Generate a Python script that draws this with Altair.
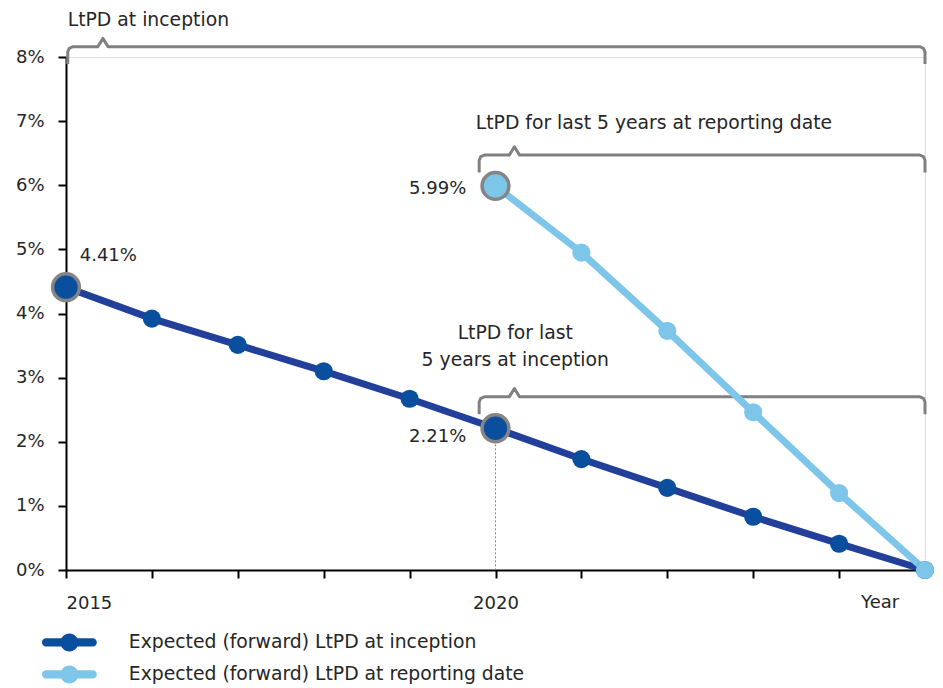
import altair as alt
import pandas as pd

# ---- data ----
years_inception = [2015, 2016, 2017, 2018, 2019, 2020, 2021, 2022, 2023, 2024, 2025]
ltpd_inception = [4.41, 3.92, 3.51, 3.10, 2.67, 2.21, 1.73, 1.28, 0.83, 0.41, 0.00]

years_reporting = [2020, 2021, 2022, 2023, 2024, 2025]
ltpd_reporting = [5.99, 4.95, 3.73, 2.46, 1.20, 0.00]

series_names = ["Expected (forward) LtPD at inception",
                "Expected (forward) LtPD at reporting date"]
highlight = [(series_names[0], 2015), (series_names[0], 2020), (series_names[1], 2020)]

y_ticks = [0, 1, 2, 3, 4, 5, 6, 7, 8]
x_ticks = list(range(2015, 2026))

# bracket annotations: (start year, end year, level %, peak year)
brackets = [(2015.02, 2025.0, 8.16, 2015.43),
            (2019.81, 2025.0, 6.47, 2020.22),
            (2019.81, 2025.0, 2.70, 2020.22)]
bracket_texts_left = [("LtPD at inception", 2015.02, 8.58),
                      ("LtPD for last 5 years at reporting date", 2019.77, 6.97)]
bracket_texts_center = [("LtPD for last", 2020.23, 3.70),
                        ("5 years at inception", 2020.23, 3.28)]
value_labels_left = [("4.41%", 2015.16, 4.90)]
value_labels_right = [("5.99%", 2019.66, 5.94), ("2.21%", 2019.66, 2.07)]

# ---- tables ----
rows = []
for y, v in zip(years_inception, ltpd_inception):
    rows.append({"series": series_names[0], "year": y, "ltpd": v})
for y, v in zip(years_reporting, ltpd_reporting):
    rows.append({"series": series_names[1], "year": y, "ltpd": v})
df = pd.DataFrame(rows)
df["hl"] = [(s, y) in highlight for s, y in zip(df["series"], df["year"])]

drop, rx, ry, pw, ph = 0.27, 0.06, 0.08, 0.06, 0.13
brows = []
for i, (x0, x1, L, p) in enumerate(brackets):
    pts = [(x0, L - drop), (x0, L - ry), (x0 + rx * 0.3, L - ry * 0.3), (x0 + rx, L),
           (p - pw, L), (p, L + ph), (p + pw, L), (x1 - rx, L),
           (x1 - rx * 0.3, L - ry * 0.3), (x1, L - ry), (x1, L - drop)]
    for k, (x, y) in enumerate(pts):
        brows.append({"b": i, "k": k, "x": x, "y": y})
bdf = pd.DataFrame(brows)

dash_df = df[(df["series"] == series_names[0]) & (df["year"] == 2020)].copy()
dash_df["zero"] = 0.0

FONT = "DejaVu Sans"
TXT = "#262626"
FS = 18.8
xscale = alt.Scale(domain=[2015, 2025], nice=False, zero=False)
yscale = alt.Scale(domain=[0, 8], nice=False)

line_colors = ["#22409a", "#7dc6ea"]
point_colors = ["#0a4f9d", "#7dc6ea"]

# legend symbol: thick rounded line with a dot (unit = 9 px)
LEG_PATH = ("M-2.6,-0.45 L2.6,-0.45 A0.45,0.45 0 0,1 2.6,0.45 "
            "L-2.6,0.45 A0.45,0.45 0 0,1 -2.6,-0.45 Z "
            "M-1,0 A1,1 0 1,1 1,0 A1,1 0 1,1 -1,0 Z")

x_enc = alt.X("year:Q", scale=xscale,
              axis=alt.Axis(values=x_ticks, title=None, grid=False,
                            labelExpr="(datum.value == 2015 || datum.value == 2020) ? toString(datum.value) : ''",
                            domainColor="black", domainWidth=2, tickColor="black",
                            tickWidth=2, tickSize=8, labelPadding=16, labelFontSize=18,
                            labelFont=FONT, labelColor=TXT))
y_enc = alt.Y("ltpd:Q", scale=yscale,
              axis=alt.Axis(values=y_ticks, title=None, grid=False,
                            labelExpr="datum.value + '%'", domainColor="black",
                            domainWidth=2, tickColor="black", tickWidth=2, tickSize=8,
                            labelPadding=14, labelFontSize=18, labelFont=FONT,
                            labelColor=TXT))

bracket_layer = alt.Chart(bdf).mark_line(color="#808080", strokeWidth=3,
                                         strokeJoin="round", strokeCap="butt").encode(
    x=alt.X("x:Q", scale=xscale), y=alt.Y("y:Q", scale=yscale),
    detail="b:N", order="k:Q")

dash_layer = alt.Chart(dash_df).mark_rule(
    color="#8a8a8a", strokeWidth=1, strokeDash=[2, 2]).encode(
    x=alt.X("year:Q", scale=xscale), y=alt.Y("ltpd:Q", scale=yscale), y2="zero:Q")

line_layer = alt.Chart(df).mark_line(strokeWidth=7, strokeCap="round").encode(
    x=x_enc, y=y_enc,
    color=alt.Color("series:N", scale=alt.Scale(domain=series_names, range=line_colors),
                    legend=None))

point_layer = alt.Chart(df).mark_point(filled=True, size=330, opacity=1).encode(
    x=alt.X("year:Q", scale=xscale), y=alt.Y("ltpd:Q", scale=yscale),
    color=alt.Color("series:N", scale=alt.Scale(domain=series_names, range=point_colors),
                    legend=alt.Legend(orient="none", legendX=-6, legendY=576, title=None,
                                      symbolType=LEG_PATH, symbolSize=324,
                                      symbolStrokeWidth=0, labelFontSize=FS,
                                      labelFont=FONT, labelColor=TXT, labelOffset=50,
                                      labelLimit=0, rowPadding=12, direction="vertical")))

hl_layer = alt.Chart(df[df["hl"]]).mark_point(filled=True, size=720, opacity=1,
                                              stroke="#858585", strokeWidth=3.5).encode(
    x=alt.X("year:Q", scale=xscale), y=alt.Y("ltpd:Q", scale=yscale),
    fill=alt.Fill("series:N", scale=alt.Scale(domain=series_names, range=point_colors),
                  legend=None))

def text_df(items):
    return pd.DataFrame([{"t": t, "x": x, "y": y} for t, x, y in items])

def text_layer(items, align, size=FS):
    return alt.Chart(text_df(items)).mark_text(
        align=align, baseline="middle", fontSize=size, font=FONT, color=TXT).encode(
        x=alt.X("x:Q", scale=xscale), y=alt.Y("y:Q", scale=yscale), text="t:N")

year_layer = alt.Chart(pd.DataFrame([{"t": "Year", "x": 2024.70, "y": -0.515}])).mark_text(
    align="right", baseline="middle", fontSize=18, font=FONT,
    color=TXT).encode(x=alt.X("x:Q", scale=xscale), y=alt.Y("y:Q", scale=yscale), text="t:N")

chart = alt.layer(
    bracket_layer, dash_layer, line_layer, point_layer, hl_layer,
    text_layer(bracket_texts_left, "left"),
    text_layer(bracket_texts_center, "center"),
    text_layer(value_labels_left, "left", 18),
    text_layer(value_labels_right, "right", 18),
    year_layer,
).resolve_scale(color="independent").properties(
    width=859, height=513,
    autosize=alt.AutoSizeParams(type="none"),
    padding={"left": 58, "top": 49, "right": 10, "bottom": 116},
).configure_view(stroke=None).configure(background="white")

chart.save("out.html", embed_options={"renderer": "svg", "actions": False})
